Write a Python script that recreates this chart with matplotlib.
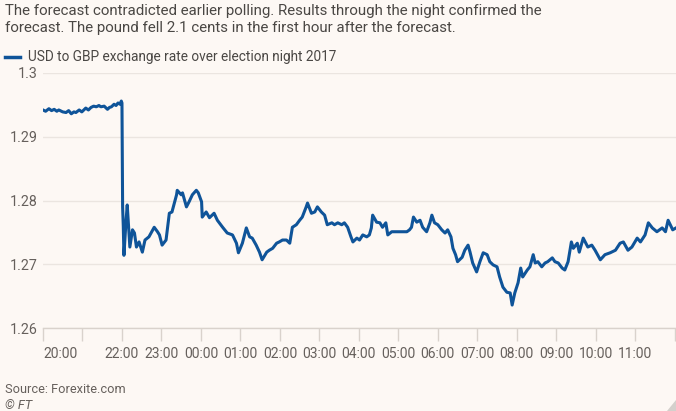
import matplotlib.pyplot as plt
from matplotlib.ticker import FixedLocator
from matplotlib.patches import Polygon

# minutes after 20:00 on election night, and USD/GBP rate
minutes = [0, 4, 9, 13, 17, 21, 24, 30, 35, 39, 43, 47, 50, 55, 59, 65, 69, 73, 77, 81,
           85, 88, 93, 98, 101, 104, 108, 111, 114, 117, 119, 120,
           121, 122, 123, 126, 128, 130, 132, 136, 139, 142, 146, 151, 155, 161, 169, 174,
           177, 181, 187, 192, 196, 203, 204, 210, 212, 218, 222, 227, 233, 236, 241, 242,
           248, 253, 260, 265, 273, 280, 288, 294, 297, 303, 309, 314, 318, 324, 329, 333,
           340, 344, 349, 355, 359, 364, 370, 375, 379, 385, 390, 394, 400, 402, 408, 413,
           417, 423, 428, 432, 439, 443, 448, 454, 458, 463, 468, 471, 477, 481, 486, 492,
           496, 499, 501, 507, 512, 516, 521, 524, 530, 538, 545, 553, 557, 560, 563, 568,
           573, 577, 583, 588, 591, 595, 600, 606, 611, 615, 620, 623, 627, 630, 637, 641,
           646, 649, 653, 659, 664, 669, 675, 679, 684, 690, 694, 699, 705, 710, 713, 717,
           722, 726, 729, 736, 740, 745, 748, 752, 758, 763, 767, 774, 778, 783, 789, 793,
           798, 803, 806, 812, 815, 821, 824, 828, 834, 839, 847, 854, 862, 870, 877, 882,
           889, 895, 903, 908, 915, 920, 926, 933, 941, 946, 950, 957, 962]
rate = [1.2942, 1.2940, 1.2944, 1.2941, 1.2943, 1.2940, 1.2942, 1.2939, 1.2938, 1.2941,
        1.2936, 1.2939, 1.2938, 1.2942, 1.2939, 1.2945, 1.2942, 1.2946, 1.2948, 1.2947,
        1.2949, 1.2947, 1.2948, 1.2943, 1.2946, 1.2947, 1.2951, 1.2949, 1.2953, 1.2951,
        1.2956, 1.2953,
        1.2790, 1.2760, 1.2714, 1.2765, 1.2793, 1.2760, 1.2727, 1.2754, 1.2749, 1.2727,
        1.2735, 1.2719, 1.2738, 1.2743, 1.2758, 1.2751, 1.2746, 1.2730, 1.2738, 1.2780,
        1.2782, 1.2809, 1.2816, 1.2809, 1.2812, 1.2790, 1.2798, 1.2809, 1.2816, 1.2812,
        1.2798, 1.2774, 1.2782, 1.2773, 1.2780, 1.2769, 1.2758, 1.2749, 1.2746, 1.2733,
        1.2718, 1.2733, 1.2757, 1.2743, 1.2741, 1.2730, 1.2719, 1.2707, 1.2719, 1.2722,
        1.2725, 1.2733, 1.2735, 1.2738, 1.2738, 1.2733, 1.2758, 1.2762, 1.2769, 1.2774,
        1.2790, 1.2796, 1.2780, 1.2782, 1.2790, 1.2782, 1.2777, 1.2762, 1.2765, 1.2762,
        1.2765, 1.2762, 1.2765, 1.2758, 1.2743, 1.2735, 1.2741, 1.2738, 1.2746, 1.2743,
        1.2746, 1.2757, 1.2777, 1.2766, 1.2765, 1.2758, 1.2765, 1.2746, 1.2751, 1.2751,
        1.2751, 1.2751, 1.2754, 1.2758, 1.2774, 1.2766, 1.2769, 1.2758, 1.2751, 1.2765,
        1.2777, 1.2765, 1.2762, 1.2754, 1.2749, 1.2754, 1.2743, 1.2725, 1.2715, 1.2704,
        1.2711, 1.2722, 1.2730, 1.2719, 1.2702, 1.2688, 1.2704, 1.2718, 1.2715, 1.2704,
        1.2699, 1.2696, 1.2680, 1.2664, 1.2656, 1.2655, 1.2636, 1.2655, 1.2671, 1.2694,
        1.2680, 1.2691, 1.2696, 1.2715, 1.2702, 1.2704, 1.2696, 1.2702, 1.2704, 1.2710,
        1.2704, 1.2702, 1.2694, 1.2691, 1.2704, 1.2735, 1.2725, 1.2733, 1.2719, 1.2741,
        1.2735, 1.2727, 1.2730, 1.2722, 1.2707, 1.2715, 1.2718, 1.2722, 1.2733, 1.2735,
        1.2722, 1.2727, 1.2741, 1.2735, 1.2746, 1.2765, 1.2757, 1.2751, 1.2757, 1.2751,
        1.2769, 1.2754, 1.2757]

hour_ticks = list(range(0, 961, 60))
hour_labels = ['20:00', '', '22:00', '23:00', '00:00', '01:00', '02:00', '03:00', '04:00',
               '05:00', '06:00', '07:00', '08:00', '09:00', '10:00', '11:00', '']
y_ticks = [1.26, 1.27, 1.28, 1.29, 1.3]
y_labels = ['1.26', '1.27', '1.28', '1.29', '1.3']

bg = '#fdf8f4'
grey = '#66605c'
W, H = 676, 411

plt.rcParams['font.family'] = ['Roboto', 'DejaVu Sans']

fig = plt.figure(figsize=(6.76, 4.11), dpi=100)
fig.patch.set_facecolor(bg)
ax = fig.add_axes([43 / W, 83 / H, 633 / W, 255 / H])
ax.set_facecolor(bg)

ax.plot(minutes, rate, color='#0f5499', lw=2.2, solid_joinstyle='round', zorder=3)

ax.set_xlim(0, 962)
ax.set_ylim(1.26, 1.30)
ax.xaxis.set_major_locator(FixedLocator(hour_ticks))
ax.set_xticklabels(hour_labels)
ax.yaxis.set_major_locator(FixedLocator(y_ticks))
ax.set_yticklabels(y_labels)

for s in ['top', 'right', 'left']:
    ax.spines[s].set_visible(False)
ax.spines['bottom'].set_color('#d9d2cc')
ax.spines['bottom'].set_linewidth(1.0)
ax.grid(axis='y', color='#ebe5e0', lw=1.0, zorder=0)
ax.tick_params(axis='y', length=0, pad=4, labelsize=10.3, labelcolor=grey)
ax.tick_params(axis='x', length=9, width=1.0, color='#d9d2cc', pad=5,
               labelsize=10, labelcolor=grey)
lbls = ax.get_xticklabels()
lbls[0].set_horizontalalignment('left')

txt = '#4a4744'
fig.text(5 / W, 1 - 11 / H, 'The forecast contradicted earlier polling. Results through the night confirmed the',
         fontsize=10.85, color=txt, va='center')
fig.text(5 / W, 1 - 28 / H, 'forecast. The pound fell 2.1 cents in the first hour after the forecast.',
         fontsize=10.85, color=txt, va='center')
fig.lines.append(plt.Line2D([5 / W, 20 / W], [1 - 57 / H, 1 - 57 / H],
                            transform=fig.transFigure, color='#0f5499', lw=2.5))
fig.text(28 / W, 1 - 57 / H, 'USD to GBP exchange rate over election night 2017',
         fontsize=9.8, color=txt, va='center')
fig.text(5 / W, 1 - 389 / H, 'Source: Forexite.com', fontsize=9.2, color=grey, va='center')
fig.text(5 / W, 1 - 405 / H, '© FT', fontsize=9.2, color=grey, va='center', style='italic')

# small corner mark bottom right
fig.patches.append(Polygon([[667 / W, 0], [1, 0], [1, 11 / H]], closed=True,
                           transform=fig.transFigure, facecolor='#d4d0cc', edgecolor='none'))

fig.savefig('out.png', dpi=100, facecolor=bg)
